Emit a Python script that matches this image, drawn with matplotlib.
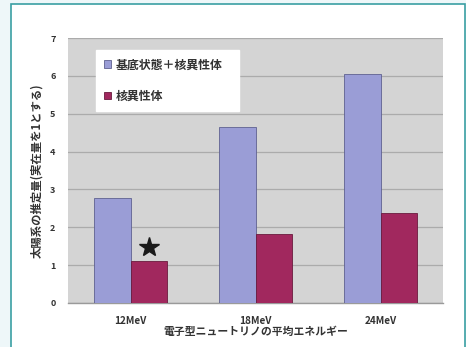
import matplotlib
matplotlib.use("Agg")
import matplotlib.pyplot as plt
from matplotlib.patches import Rectangle
import numpy as np

plt.rcParams['font.family'] = ['Noto Sans CJK JP', 'DejaVu Sans']

# datos
categorias = ["12MeV", "18MeV", "24MeV"]
total = [2.77, 4.65, 6.06]      # 基底状態＋核異性体
isomero = [1.10, 1.83, 2.37]    # 核異性体
etiquetas = ["基底状態＋核異性体", "核異性体"]
yticks = [0, 1, 2, 3, 4, 5, 6, 7]

W, H = 466, 347
fig = plt.figure(figsize=(W / 100, H / 100), dpi=100)
fig.patch.set_facecolor("#eef7f9")

# marco blanco con borde verde azulado
marco = Rectangle((11 / W, -0.05), (465 - 11) / W, 1.05 - 4 / H,
                  transform=fig.transFigure, facecolor="white",
                  edgecolor="#3a9fa3", linewidth=1.2, zorder=-5)
fig.patches.append(marco)

ax = fig.add_axes([68 / W, 1 - 303 / H, 375 / W, 265 / H])
ax.set_facecolor("#d4d4d4")

x = np.arange(len(categorias))
ancho = 0.29
b1 = ax.bar(x - ancho / 2, total, ancho, color="#9a9dd6",
            edgecolor="#5f6190", linewidth=0.6, zorder=3, label=etiquetas[0])
b2 = ax.bar(x + ancho / 2, isomero, ancho, color="#a1285e",
            edgecolor="#6a1a3e", linewidth=0.6, zorder=3, label=etiquetas[1])

# estrella sobre la primera barra roja
ax.plot(x[0] + ancho / 2, isomero[0] + 0.38, marker="*", ms=15,
        color="#1a1a1a", zorder=4)

ax.set_xlim(-0.5, len(categorias) - 0.5)
ax.set_ylim(0, 7)
ax.set_yticks(yticks)
ax.set_yticklabels([str(v) for v in yticks], fontsize=6.5, fontweight="bold",
                   color="#333333")
ax.set_xticks(x)
ax.set_xticklabels(categorias, fontsize=7.2, fontweight="bold", color="#333333")
ax.tick_params(axis="y", length=0, pad=9)
ax.tick_params(axis="x", length=0, pad=9)
ax.grid(axis="y", color="#ababab", linewidth=0.9, zorder=1)

for lado in ["top", "right", "left"]:
    ax.spines[lado].set_visible(False)
ax.spines["bottom"].set_color("#9a9a9a")
ax.spines["bottom"].set_linewidth(1.0)

ax.set_xlabel("電子型ニュートリノの平均エネルギー", fontsize=7.8,
              fontweight="bold", color="#333333", labelpad=1)
ax.set_ylabel("太陽系の推定量(実在量を1とする)", fontsize=8.2,
              fontweight="bold", color="#333333", labelpad=5)

leg = ax.legend(handles=[b1, b2], loc="upper left",
                bbox_to_anchor=(0.075, 0.955, 0.381, 0.0), mode="expand",
                fontsize=8.6, frameon=True, fancybox=False, borderpad=0.7,
                labelspacing=1.55, handlelength=0.55, handleheight=0.55,
                handletextpad=0.35, borderaxespad=0)
leg.get_frame().set_facecolor("white")
leg.get_frame().set_edgecolor("white")
leg.get_frame().set_alpha(1)
for t in leg.get_texts():
    t.set_fontweight("bold")
    t.set_color("#333333")

fig.savefig("out.png", dpi=100, facecolor=fig.get_facecolor())
